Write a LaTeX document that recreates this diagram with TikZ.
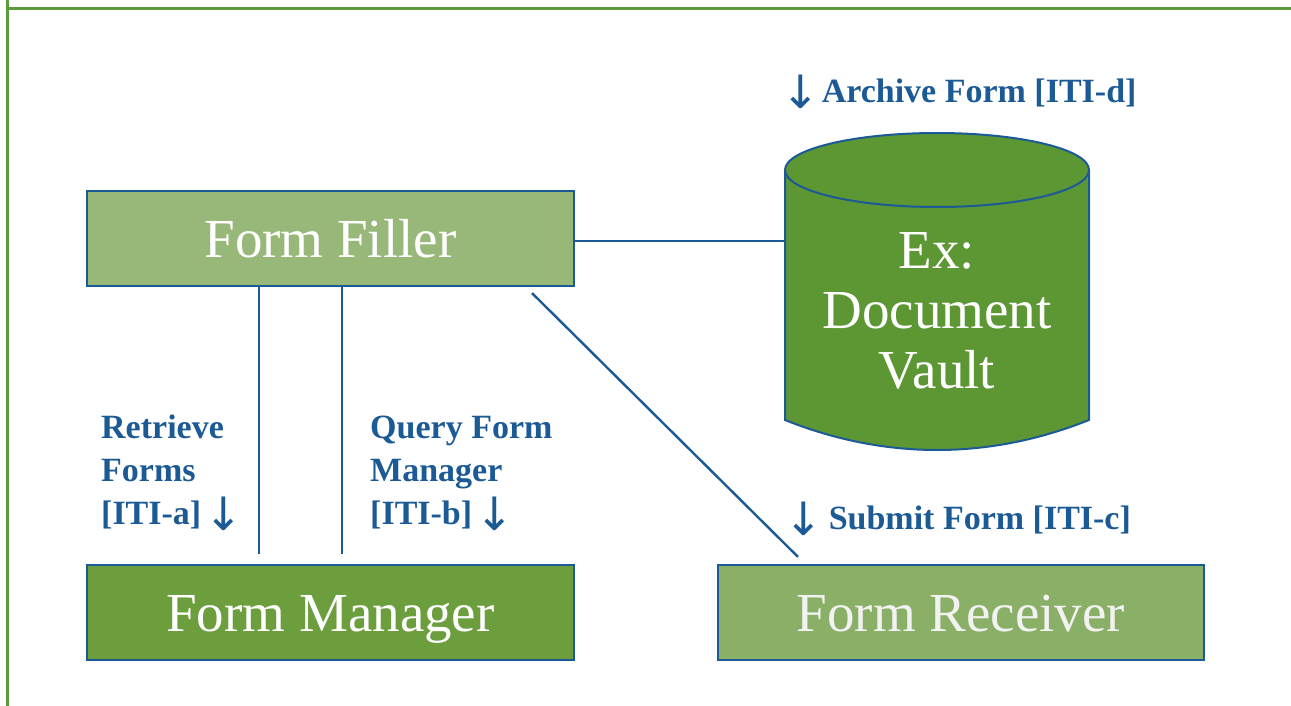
\documentclass[tikz,border=0pt]{standalone}
\usepackage{fontspec}
\setmainfont{Liberation Serif}
\newfontfamily\arrowfont{DejaVu Sans}
\usetikzlibrary{shapes}

\definecolor{lineblue}{HTML}{1C5A96}
\definecolor{framegreen}{HTML}{5B9B3B}
\definecolor{fillerfill}{HTML}{97B878}
\definecolor{managerfill}{HTML}{6C9E3E}
\definecolor{receiverfill}{HTML}{8AAF66}
\definecolor{receivertext}{HTML}{F2F2F2}
\definecolor{vaultfill}{HTML}{5D9733}

\newcommand{\boxfont}{\fontsize{55}{60}\selectfont}
\newcommand{\itifont}{\bfseries\fontsize{34}{43}\selectfont}
\newcommand{\dn}{\raisebox{-6pt}{\arrowfont\mdseries\fontsize{46}{43}\selectfont ↓}}

\tikzset{
  box/.style={shape=rectangle,draw=lineblue,line width=2.2,minimum width=487,minimum height=95,inner sep=0,text=white,font=\boxfont,text height=38,text depth=0},
  vaultlabel/.style={shape=rectangle,minimum width=304,inner sep=0,text=white,font=\boxfont,align=center},
  link/.style={draw=lineblue,line width=2.4},
  iti/.style={text=lineblue,font=\itifont,align=left,inner sep=0}
}

\begin{document}
\begin{tikzpicture}[x=1pt,y=-1pt]
\useasboundingbox (0,0) rectangle (1291,706);
\draw[framegreen,line width=3] (7.5,0) -- (7.5,706);
\draw[framegreen,line width=3] (7.5,8.5) -- (1291,8.5);

% document vault drum
\fill[vaultfill] (785,170) -- (785,420) .. controls (885,460) and (989,460) .. (1089,420) -- (1089,170) -- cycle;
\draw[lineblue,line width=2] (785,170) -- (785,420) .. controls (885,460) and (989,460) .. (1089,420) -- (1089,170);
\draw[lineblue,line width=2,fill=vaultfill] (937,170) ellipse (152 and 37);

\node[box,fill=fillerfill] (0) at (330.5,238.5) {Form Filler};
\node[box,fill=managerfill] (1) at (330.5,612.5) {Form Manager};
\node[box,fill=receiverfill,text=receivertext,minimum width=486] (2) at (961,612.5) {Form Receiver};
\node[vaultlabel] (3) at (937,311) {Ex:\\Document\\Vault};

\draw[link] ([yshift=-2.5]0.east) -- ([yshift=-2.5]0.east -| 3.west);
\draw[link] ([xshift=-71.5]0.south) -- ([xshift=-71.5,yshift=10]1.north);
\draw[link] ([xshift=11.5]0.south) -- ([xshift=11.5,yshift=10]1.north);
\draw[link] ([xshift=201.5,yshift=-6]0.south) -- ([xshift=-163,yshift=7]2.north);

% last line sits on the base anchor
\node[iti,anchor=base west] (4) at (101,524) {Retrieve\\Forms\\{}[ITI-a]\hspace{3pt}\dn};
\node[iti,anchor=base west] (5) at (370,524) {Query Form\\Manager\\{}[ITI-b]\hspace{3pt}\dn};
\node[iti,anchor=base west] (6) at (781,103) {\dn\hspace{2pt}Archive Form [ITI-d]};
\node[iti,anchor=base west] (7) at (784,529) {\dn\hspace{6pt}Submit Form [ITI-c]};

\end{tikzpicture}
\end{document}
